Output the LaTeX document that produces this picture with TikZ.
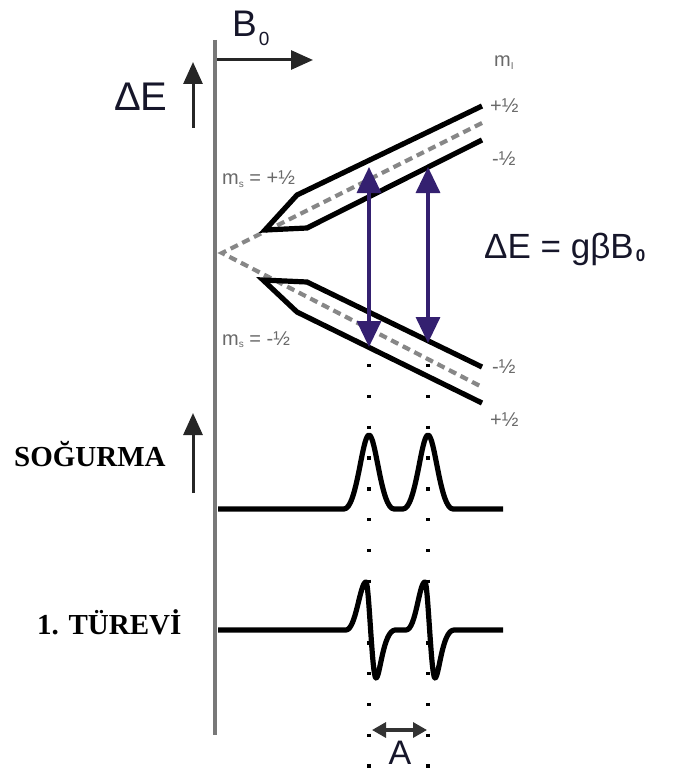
\documentclass[tikz,border=0pt]{standalone}
\usepackage{fontspec}
\setmainfont{Liberation Sans}
\newfontfamily\trserif{Liberation Serif}
\usetikzlibrary{arrows.meta}
\definecolor{axisgray}{RGB}{120,120,120}
\definecolor{dashgray}{RGB}{135,135,135}
\definecolor{labelgray}{RGB}{105,105,105}
\definecolor{trnavy}{RGB}{52,32,112}
\definecolor{textnavy}{RGB}{22,22,42}
\tikzset{
  level/.style={line width=5.2pt, black, line join=miter},
  centerline/.style={line width=4.2pt, dashgray, dash pattern=on 8pt off 5pt},
  transition/.style={line width=3.4pt, trnavy, {Triangle[width=24pt,length=26pt]}-{Triangle[width=24pt,length=26pt]}},
  guide/.style={line width=3.4pt, black, dash pattern=on 3.4pt off 27.4pt},
  spectrum/.style={line width=5.2pt, black, line join=round},
  axisarrow/.style={line width=3pt, black!85, -{Triangle[width=19pt,length=22pt]}},
  smalllab/.style={labelgray, font=\fontsize{20}{20}\selectfont, inner sep=0pt, anchor=base west},
  turklab/.style={font=\trserif\bfseries\fontsize{29}{29}\selectfont, inner sep=0pt, anchor=base west},
  sanslab/.style={textnavy, inner sep=0pt, anchor=base west}
}
\newcommand{\subI}{\raisebox{-0.25ex}{\fontsize{10}{10}\selectfont I}}
\newcommand{\subs}{\raisebox{-0.25ex}{\fontsize{10}{10}\selectfont s}}
\begin{document}
\begin{tikzpicture}[x=1pt,y=-1pt]
\useasboundingbox (0,0) rectangle (687,778);

% axis
\coordinate (axtop) at (215,40);
\coordinate (axbot) at (215,735);
\draw[axisgray, line width=4.8pt] (axtop) -- (axbot);

% B0 arrow
\coordinate (bstart) at (217,60);
\coordinate (bend) at (313,60);
\draw[axisarrow] (bstart) -- (bend);
\node[sanslab, font=\fontsize{37}{37}\selectfont] (b0) at (232,37) {B\hspace{2pt}\raisebox{-9pt}{\fontsize{19}{19}\selectfont 0}};

% Delta E arrow
\coordinate (debot) at (193,128);
\coordinate (detop) at (193,62);
\draw[axisarrow] (debot) -- (detop);
\node[sanslab, font=\fontsize{40}{40}\selectfont] (de) at (114,111) {ΔE};

% energy levels
\draw[centerline] (482,123) -- (222,253) -- (482,387);
\draw[level] (482,106) -- (297,195) -- (265,230) -- (307,228) -- (482,140);
\draw[level] (482,367) -- (307,282) -- (263,280) -- (297,312) -- (482,403);

% level labels
\node[smalllab] (mI) at (494,67) {m\subI};
\node[smalllab] (up1) at (490,113) {+½};
\node[smalllab] (up2) at (492,165) {-½};
\node[smalllab] (lo1) at (492,373) {-½};
\node[smalllab] (lo2) at (490,426) {+½};
\node[smalllab] (msp) at (222,185) {m\subs{} = +½};
\node[smalllab] (msm) at (222,345) {m\subs{} = -½};

% transitions
\coordinate (t1a) at (369,167);
\coordinate (t1b) at (369,347);
\coordinate (t2a) at (428,167);
\coordinate (t2b) at (428,343);
\draw[transition] (t1a) -- (t1b);
\draw[transition] (t2a) -- (t2b);

\node[sanslab, font=\fontsize{35}{35}\selectfont, textnavy] (formula) at (484,258) {ΔE = gβB\hspace{2pt}\raisebox{-3pt}{\fontsize{17}{17}\selectfont\bfseries 0}};

% absorption
\draw[spectrum] (218,509) -- (344,509)
  .. controls (357,509) and (362,435) .. (369,435)
  .. controls (376,435) and (381,509) .. (394,509) -- (403,509)
  .. controls (416,509) and (421,435) .. (428,435)
  .. controls (435,435) and (440,509) .. (453,509) -- (503,509);
\coordinate (sabot) at (193,493);
\coordinate (satop) at (193,413);
\draw[axisarrow] (sabot) -- (satop);
\node[turklab] (sog) at (14,466) {SOĞURMA};

% derivative
\draw[spectrum] (218,630) -- (346,630)
  .. controls (356,630) and (360,582) .. (366,582)
  .. controls (369,582) and (372,678) .. (376,678)
  .. controls (380,678) and (383,631) .. (395,630) -- (406,630)
  .. controls (416,630) and (419,582) .. (425,582)
  .. controls (428,582) and (431,678) .. (435,678)
  .. controls (439,678) and (442,630) .. (454,630) -- (503,630);
\node[turklab] (tur) at (37,634) {1. TÜREVİ};

% guides
\coordinate (g1a) at (369,364);
\coordinate (g1b) at (369,768);
\coordinate (g2a) at (428,364);
\coordinate (g2b) at (428,768);
\draw[guide] (g1a) -- (g1b);
\draw[guide] (g2a) -- (g2b);

% A arrow
\coordinate (aa) at (372,730);
\coordinate (ab) at (427,730);
\draw[line width=3.2pt, black!80, {Triangle[width=15pt,length=14pt]}-{Triangle[width=15pt,length=14pt]}] (aa) -- (ab);
\node[sanslab, font=\fontsize{34}{34}\selectfont, anchor=base] (alab) at (400,764) {A};
\end{tikzpicture}
\end{document}
